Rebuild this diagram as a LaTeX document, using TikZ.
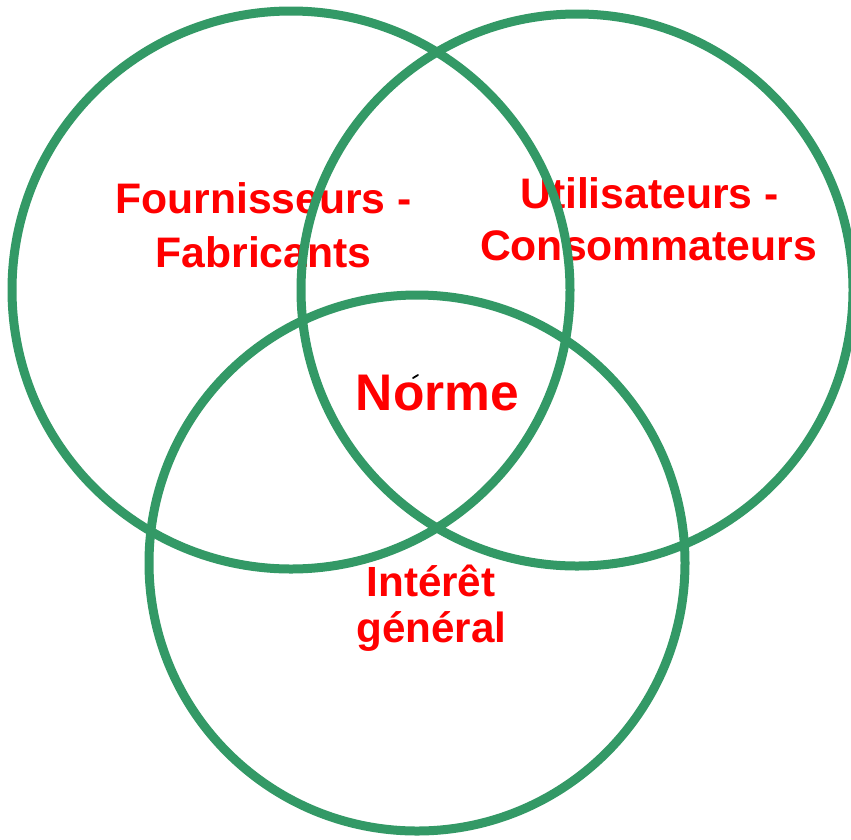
\documentclass[tikz,border=0pt]{standalone}
\usepackage{fontspec}
\setmainfont{Liberation Sans}
\definecolor{ringgreen}{RGB}{51,153,102}
\definecolor{labelred}{RGB}{255,0,0}
\begin{document}
\begin{tikzpicture}[x=1pt,y=-1pt,
  ring/.style={draw=ringgreen,line width=9pt},
  lbl/.style={text=labelred,font=\bfseries\fontsize{42.7}{50}\selectfont,anchor=base,inner sep=0pt},
  lbls/.style={text=labelred,font=\bfseries\fontsize{42.2}{50}\selectfont,anchor=base,inner sep=0pt},
  big/.style={text=labelred,font=\bfseries\fontsize{51.5}{58}\selectfont,anchor=base,inner sep=0pt}]
\useasboundingbox (0,0) rectangle (851,839);
\clip (0,0) rectangle (851,839);
\fill[white] (0,0) rectangle (851,839);
% labels
\node[lbl] (f1) at (263.5,213) {Fournisseurs -};
\node[lbl] (f2) at (263.5,267) {Fabricants};
\node[lbl] (u1) at (649.5,208) {Utilisateurs -};
\node[lbl] (u2) at (648.5,260) {Consommateurs};
\node[big] (n) at (437.5,410) {Norme};
\node[lbls] (i1) at (431,596) {Intérêt};
\node[lbls] (i2) at (431.5,642) {général};
% stray mark
\draw[black,line width=1.8pt,line cap=round] (413,378) -- (418,375);
% circles
\node[ring,circle,minimum size=558pt,inner sep=0pt] (c1) at (291,290) {};
\node[ring,circle,minimum size=552pt,inner sep=0pt] (c2) at (577,290) {};
\node[ring,circle,minimum size=536pt,inner sep=0pt] (c3) at (417,563) {};
\end{tikzpicture}
\end{document}
